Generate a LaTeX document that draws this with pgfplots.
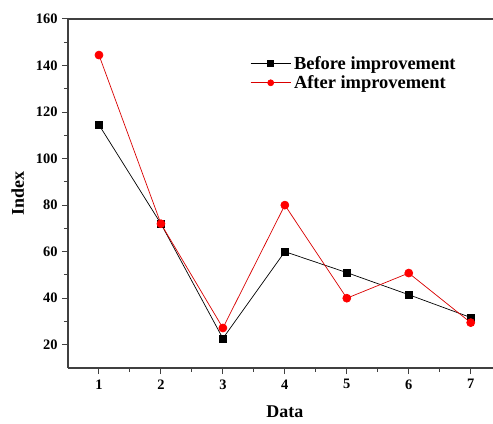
\documentclass[border=0pt]{standalone}
\usepackage{pgfplots}
\pgfplotsset{compat=1.18}
\usepackage{fontspec}
\setmainfont{Liberation Serif}
\begin{document}
\begin{tikzpicture}
\begin{axis}[
  at={(0,0)}, anchor=south west,
  scale only axis,
  width=433.7bp, height=349bp,
  xmin=0.5, xmax=7.5, ymin=10, ymax=160,
  axis x line=box, axis y line=left,
  y axis line style={-},
  axis line style={line width=1.2bp, black!75},
  xtick={1,...,7}, ytick={20,40,...,160},
  minor x tick num=1, minor y tick num=1,
  xtick pos=bottom, ytick pos=left,
  tick align=outside,
  major tick length=6bp, minor tick length=4bp,
  tick style={line width=1bp, black!75},
  /pgf/number format/assume math mode=true,
  ticklabel style={font=\fontsize{14.5}{15}\selectfont\bfseries},
  yticklabel style={xshift=-1bp},
  xticklabel style={yshift=-2bp},
  xlabel={Data}, ylabel={Index},
  label style={font=\fontsize{18}{20}\selectfont\bfseries},
  xlabel style={yshift=-10bp},
  ylabel style={yshift=5bp},
  legend style={at={(0.42,0.90)}, anchor=north west, draw=none, fill=none,
    font=\fontsize{18.5}{20}\selectfont\bfseries, row sep=1bp,
    inner sep=0pt,
    nodes={inner xsep=3bp}},
  legend image code/.code={%
    \draw[mark repeat=2,mark phase=2,mark size=3bp] plot coordinates {(0bp,0bp) (20bp,0bp) (40bp,0bp)};},
  legend cell align=left,
  clip=false,
]
\addplot[black, line width=0.7bp, mark=square*, mark size=3.5bp, mark options={fill=black}]
  coordinates {(1,114.5) (2,72) (3,22.7) (4,60) (5,51) (6,41.5) (7,31.7)};
\addlegendentry{Before improvement}
\addplot[red!85!black, line width=0.7bp, mark=*, mark size=4bp, mark options={fill=red, draw=red}]
  coordinates {(1,144.5) (2,72) (3,27.2) (4,80) (5,40) (6,50.8) (7,29.5)};
\addlegendentry{After improvement}
\end{axis}
\pgfresetboundingbox
\path[use as bounding box] (-68bp,-56bp) rectangle (425bp,368bp);
\end{tikzpicture}
\end{document}
